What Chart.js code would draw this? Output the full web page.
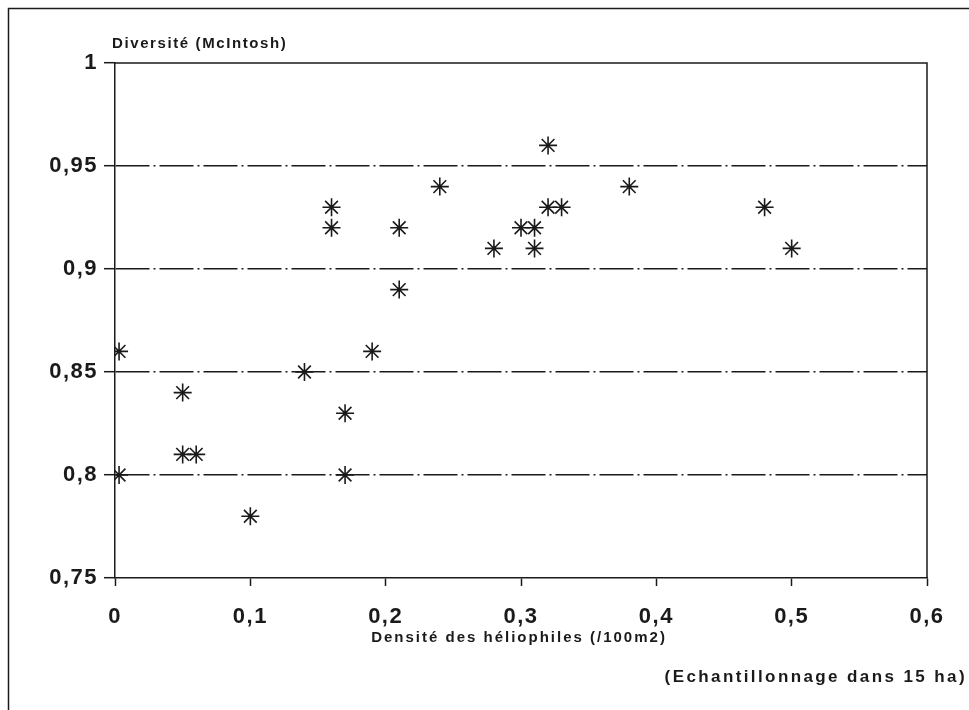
<!DOCTYPE html>
<html>
<head>
<meta charset="utf-8">
<script src="https://cdn.jsdelivr.net/npm/chart.js@4"></script>
<style>
  body { margin: 0; background: #fff; }
</style>
</head>
<body>
<canvas id="scatterChart" width="969" height="710"></canvas>
<script>
// densite des heliophiles (/100m2) et diversite (McIntosh)
var density   = [0.003, 0.003, 0.05, 0.05, 0.06, 0.1, 0.14, 0.16, 0.16, 0.17, 0.17, 0.19, 0.21, 0.21,
                 0.24, 0.28, 0.3, 0.31, 0.31, 0.32, 0.32, 0.33, 0.38, 0.48, 0.5];
var diversity = [0.86, 0.8, 0.84, 0.81, 0.81, 0.78, 0.85, 0.93, 0.92, 0.83, 0.8, 0.86, 0.92, 0.89,
                 0.94, 0.91, 0.92, 0.92, 0.91, 0.96, 0.93, 0.93, 0.94, 0.93, 0.91];

var yTitle = 'Diversité (McIntosh)';
var xTitle = 'Densité des héliophiles (/100m2)';
var note = '(Echantillonnage dans 15 ha)';

var points = density.map(function (d, i) {
    return { x: d, y: diversity[i] };
});

function commaLabel(v) {
    return String(Number(v.toFixed(2))).replace('.', ',');
}

var ink = '#1a1a1a';
var fontFamily = '"Liberation Sans", Arial, sans-serif';

var decorations = {
    id: 'decorations',
    beforeDraw: function (chart) {
        var c = chart.ctx;
        c.save();
        c.strokeStyle = ink;
        c.lineWidth = 1.5;
        c.beginPath();
        c.moveTo(8.5, 710);
        c.lineTo(8.5, 8.5);
        c.lineTo(969, 8.5);
        c.stroke();
        c.restore();
        // spacing for the tick labels, wider like the original print
        c.letterSpacing = '1.5px';
    },
    afterDraw: function (chart) {
        var a = chart.chartArea;
        var c = chart.ctx;
        c.save();
        c.strokeStyle = ink;
        c.lineWidth = 1.5;
        c.beginPath();
        c.moveTo(a.left, a.top);
        c.lineTo(a.right, a.top);
        c.lineTo(a.right, a.bottom);
        c.stroke();

        c.fillStyle = ink;
        c.textBaseline = 'middle';
        c.font = 'bold 15px ' + fontFamily;
        c.letterSpacing = '1.6px';
        c.textAlign = 'left';
        c.fillText(yTitle, 112, 44);
        c.letterSpacing = '2px';
        c.textAlign = 'center';
        c.fillText(xTitle, 519, 638);
        c.font = 'bold 17px ' + fontFamily;
        c.letterSpacing = '2.4px';
        c.textAlign = 'right';
        c.fillText(note, 967, 677);
        c.restore();
        c.letterSpacing = '0px';
    }
};

var ctx = document.getElementById('scatterChart').getContext('2d');
var myChart = new Chart(ctx, {
    type: 'scatter',
    data: {
        datasets: [{
            data: points,
            pointStyle: 'star',
            pointRadius: 9,
            borderColor: ink,
            backgroundColor: ink,
            borderWidth: 1.6
        }]
    },
    options: {
        responsive: false,
        animation: false,
        layout: { padding: { left: 0, top: 63, right: 42, bottom: 0 } },
        plugins: {
            legend: { display: false },
            tooltip: { enabled: false }
        },
        scales: {
            x: {
                type: 'linear',
                min: 0,
                max: 0.6,
                afterFit: function (scale) { scale.height = 132; },
                grid: {
                    drawOnChartArea: false,
                    drawTicks: true,
                    tickLength: 8,
                    tickColor: ink,
                    tickWidth: 1.5
                },
                border: { color: ink, width: 1.5 },
                ticks: {
                    stepSize: 0.1,
                    padding: 18,
                    color: ink,
                    font: { family: fontFamily, size: 22, weight: 'bold' },
                    maxRotation: 0,
                    callback: function (v) { return commaLabel(v); }
                }
            },
            y: {
                min: 0.75,
                max: 1,
                afterFit: function (scale) { scale.width = 115; },
                grid: {
                    color: function (c) {
                        var v = c.tick ? c.tick.value : 0;
                        return (v > 0.76 && v < 0.99) ? ink : 'rgba(0,0,0,0)';
                    },
                    lineWidth: 1.4,
                    drawTicks: true,
                    tickLength: 11,
                    tickColor: ink,
                    tickWidth: 1.5
                },
                border: { color: ink, width: 1.5, dash: [34, 4, 2, 4] },
                ticks: {
                    stepSize: 0.05,
                    padding: 6,
                    color: ink,
                    font: { family: fontFamily, size: 22, weight: 'bold' },
                    callback: function (v) { return commaLabel(v); }
                }
            }
        }
    },
    plugins: [decorations]
});
</script>
</body>
</html>
